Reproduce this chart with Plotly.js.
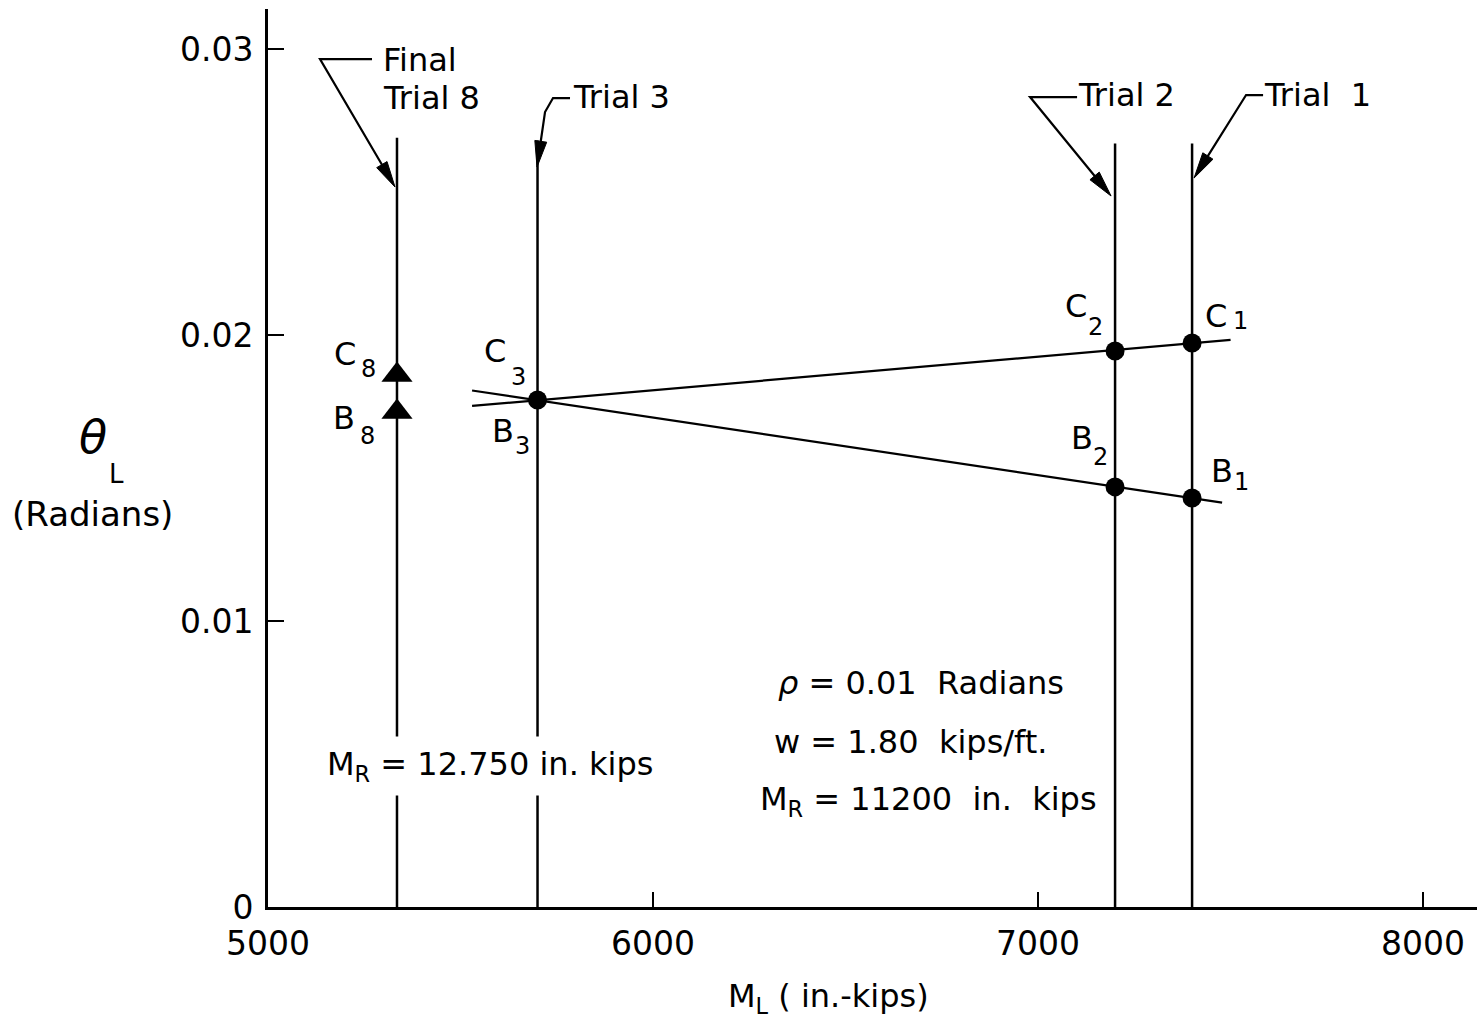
<!DOCTYPE html>
<html><head><meta charset="utf-8">
<script src="https://cdn.plot.ly/plotly-3.0.1.min.js"></script>
<style>html,body{margin:0;padding:0;background:#fff}#chart{width:1483px;height:1021px}</style>
</head><body><div id="chart"></div>
<script>
// ---- data ----
const trialNames = ['Trial 1', 'Trial 2', 'Trial 3', 'Final Trial 8'];
const trialML = [7400, 7200, 5700, 5335];
const trialTop = [0.0267, 0.0267, 0.0268, 0.0269];

const cLineML = [5530, 7500];
const cLineTheta = [0.01752, 0.01983];
const bLineML = [5530, 7478];
const bLineTheta = [0.01806, 0.01414];

const circleLabels = ['C1', 'C2', 'C3', 'B2', 'B1'];
const circleML = [7400, 7200, 5700, 7200, 7400];
const circleTheta = [0.01972, 0.01944, 0.01773, 0.01469, 0.0143];

const triLabels = ['C8', 'B8'];
const triML = [5335, 5335];
const triTheta = [0.0186, 0.01731];

const xTicks = [5000, 6000, 7000, 8000];
const xTickText = ['5000', '6000', '7000', '8000'];
const yTicks = [0, 0.01, 0.02, 0.03];
const yTickText = ['0', '0.01', '0.02', '0.03'];

// ---- layout helpers (pixel -> data / paper for label placement) ----
const FONT = 'DejaVu Sans, Liberation Sans, sans-serif';
const px2x = p => 5000 + (p - 268) / 0.385;
const px2y = p => (907 - p) / 28600;
const px2px = p => (p - 268) / 1209;
const py2py = p => (907 - p) / 898;
const NB = '\u00a0';

// vertical trial lines
const vx = [], vy = [];
trialML.forEach((m, i) => { vx.push(m, m, null); vy.push(0, trialTop[i], null); });

const traces = [
  {x: vx, y: vy, mode: 'lines', line: {color: '#000', width: 2.5}, hoverinfo: 'skip', showlegend: false},
  {x: cLineML, y: cLineTheta, mode: 'lines', line: {color: '#000', width: 2.2}, hoverinfo: 'skip', showlegend: false},
  {x: bLineML, y: bLineTheta, mode: 'lines', line: {color: '#000', width: 2.2}, hoverinfo: 'skip', showlegend: false},
  {x: circleML, y: circleTheta, text: circleLabels, mode: 'markers', marker: {color: '#000', size: 19, symbol: 'circle'}, hoverinfo: 'skip', showlegend: false},
  {x: triML, y: triTheta, text: triLabels, mode: 'markers', marker: {color: '#000', size: 27, symbol: 'triangle-up'}, hoverinfo: 'skip', showlegend: false}
];

// leader lines with arrowheads (pixel positions of label leaders)
const leaders = [
  [[372, 59], [320, 59], [395, 187]],
  [[570, 98], [553, 98], [545, 112], [537, 167]],
  [[1077, 97], [1030, 97], [1111, 196]],
  [[1263, 95], [1246, 95], [1194, 178]]
];
const shapes = [];
leaders.forEach(pts => {
  const n = pts.length;
  const tip = pts[n - 1], prev = pts[n - 2];
  const dx = tip[0] - prev[0], dy = tip[1] - prev[1];
  const L = Math.hypot(dx, dy), ux = dx / L, uy = dy / L;
  const len = 26, hw = 6;
  const bx = tip[0] - ux * len, by = tip[1] - uy * len;
  let d = 'M' + pts.slice(0, n - 1).map(p => px2x(p[0]) + ',' + px2y(p[1])).join(' L') +
          ' L' + px2x(bx + ux * 4) + ',' + px2y(by + uy * 4);
  shapes.push({type: 'path', xref: 'x', yref: 'y', path: d, line: {color: '#000', width: 2.2}});
  const h = 'M' + px2x(tip[0]) + ',' + px2y(tip[1]) +
            ' L' + px2x(bx - uy * hw) + ',' + px2y(by + ux * hw) +
            ' L' + px2x(bx + uy * hw) + ',' + px2y(by - ux * hw) + ' Z';
  shapes.push({type: 'path', xref: 'x', yref: 'y', path: h, fillcolor: '#000', line: {color: '#000', width: 1}});
});

function ann(text, px, py, size, opts) {
  return Object.assign({text: text, x: px2px(px), y: py2py(py), xref: 'paper', yref: 'paper',
    xanchor: 'left', yanchor: 'middle', showarrow: false,
    font: {family: FONT, size: size, color: '#000'}}, opts || {});
}
const S = 32;
// point labels: letter + subscript digit, pixel centres
const pointLabels = [
  ['C', '8', 345, 354, 368, 369],
  ['B', '8', 344, 418, 367, 436],
  ['C', '3', 495, 351, 518, 377],
  ['B', '3', 503, 431, 522, 446],
  ['C', '2', 1076, 306, 1095, 327],
  ['C', '1', 1216, 316, 1240, 321],
  ['B', '2', 1082, 438, 1100, 457],
  ['B', '1', 1222, 471, 1241, 482]
];
const annotations = [
  ann('Final', 381, 60, S),
  ann('Trial 8', 381, 98, S),
  ann('Trial 3', 571, 97, S),
  ann('Trial 2', 1076, 95, S),
  ann('Trial' + NB + ' 1', 1262, 95, S),
  ann('M<sub>R</sub> = 12.750 in. kips', 318, 766, S, {bgcolor: '#fff', borderpad: 8}),
  ann('<i>ρ</i> = 0.01' + NB + ' Radians', 776, 683, S),
  ann('w = 1.80' + NB + ' kips/ft.', 772, 742, S),
  ann('M<sub>R</sub> = 11200' + NB + ' in.' + NB + ' kips', 758, 801, S),
  ann('<i>θ</i>', 93, 437, 46, {xanchor: 'center'}),
  ann('L', 116, 474, 26, {xanchor: 'center'}),
  ann('(Radians)', 10, 514, 34),
  ann('M<sub>L</sub> ( in.-kips)', 726, 998, S)
];
pointLabels.forEach(p => {
  annotations.push(ann(p[0], p[2], p[3], S, {xanchor: 'center'}));
  annotations.push(ann(p[1], p[4], p[5], 24, {xanchor: 'center'}));
});

const layout = {
  width: 1483, height: 1021,
  margin: {l: 268, r: 6, t: 9, b: 114},
  paper_bgcolor: '#fff', plot_bgcolor: '#fff',
  showlegend: false,
  xaxis: {range: [5000, 8140], showgrid: false, zeroline: false, showline: true,
    linecolor: '#000', linewidth: 3, ticks: 'inside', ticklen: 15, tickwidth: 2.5, tickcolor: '#000',
    tickvals: xTicks, ticktext: xTickText, tickfont: {family: FONT, size: 33, color: '#000'}, ticklabelstandoff: 5},
  yaxis: {range: [0, 0.0314], showgrid: false, zeroline: false, showline: true,
    linecolor: '#000', linewidth: 3, ticks: 'inside', ticklen: 16, tickwidth: 2.5, tickcolor: '#000',
    tickvals: yTicks, ticktext: yTickText, tickfont: {family: FONT, size: 33, color: '#000'}, ticklabelstandoff: 5},
  shapes: shapes,
  annotations: annotations
};

Plotly.newPlot('chart', traces, layout, {displayModeBar: false, staticPlot: true});
</script>
</body></html>
